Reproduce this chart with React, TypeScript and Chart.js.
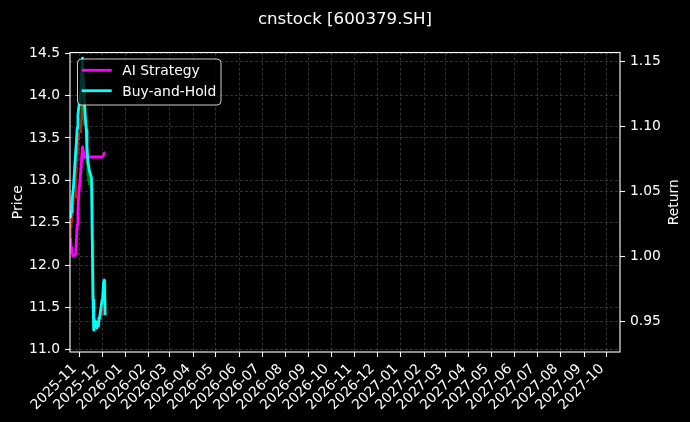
import React, { useEffect, useRef } from 'react';
import { Chart, registerables } from 'chart.js';

Chart.register(...registerables);

// ---------- data ----------
const tradeDates = [
  '2025-10-20', '2025-10-21', '2025-10-22', '2025-10-23', '2025-10-24',
  '2025-10-27', '2025-10-28', '2025-10-29', '2025-10-30', '2025-10-31',
  '2025-11-03', '2025-11-04', '2025-11-05', '2025-11-06', '2025-11-07',
  '2025-11-10', '2025-11-11', '2025-11-12', '2025-11-13', '2025-11-14',
  '2025-11-17', '2025-11-18', '2025-11-19', '2025-11-20', '2025-11-21',
  '2025-11-24', '2025-11-25', '2025-11-26', '2025-11-27', '2025-11-28',
  '2025-12-01', '2025-12-02', '2025-12-03', '2025-12-04', '2025-12-05',
];

const aiStrategy = [
  1.0144, 1.0067, 1.0036, 1.0013, 1.0005,
  1.0021, 1.0128, 1.0244, 1.0359, 1.0475,
  1.0667, 1.0759, 1.0844, 1.0805, 1.0767,
  1.0767, 1.0767, 1.0767, 1.0767, 1.0767,
  1.0767, 1.0767, 1.0767, 1.0767, 1.0767,
  1.0767, 1.0767, 1.0767, 1.0767, 1.0767,
  1.0767, 1.0767, 1.0782, 1.0798, 1.0798,
];

const buyAndHold = [
  1.0298, 1.0344, 1.0398, 1.0475, 1.0528,
  1.0805, 1.0882, 1.0990, 1.1090, 1.1144,
  1.1282, 1.1398, 1.1528, 1.1344, 1.1244,
  1.0975, 1.0859, 1.0744, 1.0705, 1.0667,
  1.0605, 1.0128, 0.9667, 0.9436, 0.9513,
  0.9452, 0.9498, 0.9467, 0.9529, 0.9544,
  0.9667, 0.9706, 0.9806, 0.9821, 0.9552,
];

const priceOpen = [
  12.30, 12.44, 12.51, 12.59, 12.71,
  12.79, 13.10, 13.22, 13.32, 13.48,
  13.56, 13.71, 13.89, 14.09, 13.81,
  13.65, 13.30, 13.18, 13.06, 13.00,
  12.95, 12.91, 12.30, 11.59, 11.23,
  11.35, 11.26, 11.33, 11.28, 11.38,
  11.40, 11.59, 11.65, 11.80, 11.82,
];

const priceClose = [
  12.44, 12.51, 12.59, 12.71, 12.79,
  13.10, 13.22, 13.32, 13.48, 13.56,
  13.71, 13.89, 14.09, 13.81, 13.65,
  13.30, 13.18, 13.06, 13.00, 12.95,
  12.91, 12.30, 11.59, 11.23, 11.35,
  11.26, 11.33, 11.28, 11.38, 11.40,
  11.59, 11.65, 11.80, 11.82, 11.41,
];

const monthLabels = [
  '2025-11', '2025-12', '2026-01', '2026-02', '2026-03', '2026-04',
  '2026-05', '2026-06', '2026-07', '2026-08', '2026-09', '2026-10',
  '2026-11', '2026-12', '2027-01', '2027-02', '2027-03', '2027-04',
  '2027-05', '2027-06', '2027-07', '2027-08', '2027-09', '2027-10',
];

const priceTicks = [11.0, 11.5, 12.0, 12.5, 13.0, 13.5, 14.0, 14.5];
const returnTicks = [0.95, 1.0, 1.05, 1.1, 1.15];

const chartTitle = 'cnstock [600379.SH]';
const seriesNames = ['AI Strategy', 'Buy-and-Hold'];
const seriesColors = ['#ff00ff', '#00ffff'];

// axis limits
const X_START = '2025-10-19';
const X_END = '2027-10-18';
const PRICE_MIN = 10.974;
const PRICE_MAX = 14.509;
const RET_MIN = 0.9267;
const RET_MAX = 1.1571;

// ---------- helpers ----------
const toTime = (s: string) => {
  const [y, m, d] = s.split('-').map(Number);
  return Date.UTC(y, m - 1, d || 1);
};
const DAY = 86400000;
const FONT = "'DejaVu Sans', 'Liberation Sans', sans-serif";
const FS = 13.89;

const decorPlugin = {
  id: 'decor',
  afterDatasetsDraw(chart: any) {
    const { ctx, chartArea: a } = chart;
    ctx.save();
    // frame (spines)
    ctx.strokeStyle = '#ffffff';
    ctx.lineWidth = 1.1;
    ctx.strokeRect(a.left, a.top, a.right - a.left, a.bottom - a.top);

    // legend
    const lx = a.left + 7.5;
    const ly = a.top + 6.5;
    ctx.beginPath();
    if ((ctx as any).roundRect) (ctx as any).roundRect(lx, ly, 143.5, 46, 4);
    else ctx.rect(lx, ly, 143.5, 46);
    ctx.fillStyle = 'rgba(0,0,0,0.8)';
    ctx.fill();
    ctx.strokeStyle = 'rgba(255,255,255,0.8)';
    ctx.lineWidth = 1;
    ctx.stroke();
    seriesNames.forEach((name, i) => {
      const y = ly + 11.3 + i * 20.4;
      ctx.beginPath();
      ctx.moveTo(lx + 4.2, y);
      ctx.lineTo(lx + 34.2, y);
      ctx.strokeStyle = seriesColors[i];
      ctx.lineWidth = 2.8;
      ctx.stroke();
      ctx.fillStyle = '#ffffff';
      ctx.font = `${FS}px ${FONT}`;
      ctx.textAlign = 'left';
      ctx.textBaseline = 'alphabetic';
      ctx.fillText(name, lx + 44.8, y + 5);
    });

    // title
    ctx.fillStyle = '#ffffff';
    ctx.font = `16.67px ${FONT}`;
    ctx.textAlign = 'center';
    ctx.textBaseline = 'alphabetic';
    ctx.fillText(chartTitle, (a.left + a.right) / 2, 24.3);

    // axis titles
    const midY = (a.top + a.bottom) / 2;
    ctx.font = `${FS}px ${FONT}`;
    ctx.save();
    ctx.translate(21.7, midY);
    ctx.rotate(-Math.PI / 2);
    ctx.fillText('Price', 0, 0);
    ctx.restore();
    ctx.save();
    ctx.translate(678.3, midY);
    ctx.rotate(-Math.PI / 2);
    ctx.fillText('Return', 0, 0);
    ctx.restore();

    // x tick labels, rotated 45deg, bbox top-right at the tick (matplotlib style)
    const xs = chart.scales.x;
    const asc = 0.76 * FS;
    const desc = 0.24 * FS;
    const top = a.bottom + 5 + 4.9;
    const c = Math.SQRT1_2;
    ctx.font = `${FS}px ${FONT}`;
    ctx.textAlign = 'left';
    ctx.textBaseline = 'alphabetic';
    monthLabels.forEach((lab) => {
      const px = xs.getPixelForValue(toTime(lab + '-01'));
      const w = ctx.measureText(lab).width;
      const ox = px - c * (w + desc);
      const oy = top + c * (w + asc);
      ctx.save();
      ctx.translate(ox, oy);
      ctx.rotate(-Math.PI / 4);
      ctx.fillText(lab, 0, 0);
      ctx.restore();
    });

    ctx.restore();
  },
};

const gridCommon = {
  color: 'rgba(255,255,255,0.28)',
  lineWidth: 0.7,
  offset: false,
  drawTicks: true,
  tickColor: '#ffffff',
  tickLength: 5,
  tickWidth: 1.1,
  tickBorderDash: [],
};
const borderCommon = { display: false, dash: [3, 2] };
const tickFont = { family: FONT, size: FS };

export default function App() {
  const ref = useRef<HTMLCanvasElement | null>(null);

  useEffect(() => {
    document.body.style.margin = '0';
    document.body.style.background = '#000';
    if (!ref.current) return;

    const xs = tradeDates.map(toTime);
    const candleColors = priceOpen.map((o, i) =>
      priceClose[i] >= o ? 'rgba(200,45,15,0.85)' : 'rgba(0,150,0,0.85)'
    );

    const chart = new Chart(ref.current, {
      type: 'line',
      data: {
        datasets: [
          {
            type: 'bar',
            label: 'candles',
            data: xs.map((x, i) => ({ x, y: [priceOpen[i], priceClose[i]] })) as any,
            backgroundColor: candleColors,
            borderWidth: 0,
            barThickness: 2,
            yAxisID: 'y',
            xAxisID: 'x',
            order: 3,
          } as any,
          {
            type: 'line',
            label: seriesNames[0],
            data: xs.map((x, i) => ({ x, y: aiStrategy[i] })),
            borderColor: seriesColors[0],
            backgroundColor: seriesColors[0],
            borderWidth: 2.8,
            pointRadius: 0,
            tension: 0,
            borderJoinStyle: 'round',
            yAxisID: 'yR',
            xAxisID: 'x',
            order: 2,
          },
          {
            type: 'line',
            label: seriesNames[1],
            data: xs.map((x, i) => ({ x, y: buyAndHold[i] })),
            borderColor: seriesColors[1],
            backgroundColor: seriesColors[1],
            borderWidth: 2.8,
            pointRadius: 0,
            tension: 0,
            borderJoinStyle: 'round',
            yAxisID: 'yR',
            xAxisID: 'x',
            order: 1,
          },
        ],
      },
      options: {
        responsive: false,
        animation: false,
        events: [],
        layout: { padding: { top: 52.5, left: 0, right: 0, bottom: 0 } },
        plugins: {
          legend: { display: false },
          tooltip: { enabled: false },
          title: { display: false },
        },
        scales: {
          x: {
            type: 'linear',
            position: 'bottom',
            min: toTime(X_START) + DAY / 2,
            max: toTime(X_END) + DAY / 2,
            offset: false,
            grid: { ...gridCommon },
            border: { ...borderCommon },
            afterBuildTicks: (scale: any) => {
              scale.ticks = monthLabels.map((l) => ({ value: toTime(l + '-01') }));
            },
            afterFit: (scale: any) => {
              scale.height = 70;
            },
            ticks: {
              display: false,
              autoSkip: false,
              maxRotation: 0,
              minRotation: 0,
            },
          },
          y: {
            type: 'linear',
            position: 'left',
            min: PRICE_MIN,
            max: PRICE_MAX,
            grid: { ...gridCommon },
            border: { ...borderCommon },
            afterBuildTicks: (scale: any) => {
              scale.ticks = priceTicks.map((v) => ({ value: v }));
            },
            afterFit: (scale: any) => {
              scale.width = 70;
            },
            ticks: {
              padding: 5,
              color: '#ffffff',
              font: tickFont,
              callback: (v: any) => Number(v).toFixed(1),
            },
          },
          yR: {
            type: 'linear',
            position: 'right',
            min: RET_MIN,
            max: RET_MAX,
            grid: { ...gridCommon, drawOnChartArea: true },
            border: { ...borderCommon },
            afterBuildTicks: (scale: any) => {
              scale.ticks = returnTicks.map((v) => ({ value: v }));
            },
            afterFit: (scale: any) => {
              scale.width = 70;
            },
            ticks: {
              padding: 5,
              color: '#ffffff',
              font: tickFont,
              callback: (v: any) => Number(v).toFixed(2),
            },
          },
        },
      } as any,
      plugins: [decorPlugin],
    });

    return () => chart.destroy();
  }, []);

  return (
    <div style={{ position: 'fixed', left: 0, top: 0, width: 690, height: 422, background: '#000' }}>
      <canvas ref={ref} width={690} height={422} style={{ display: 'block', width: 690, height: 422 }} />
    </div>
  );
}
